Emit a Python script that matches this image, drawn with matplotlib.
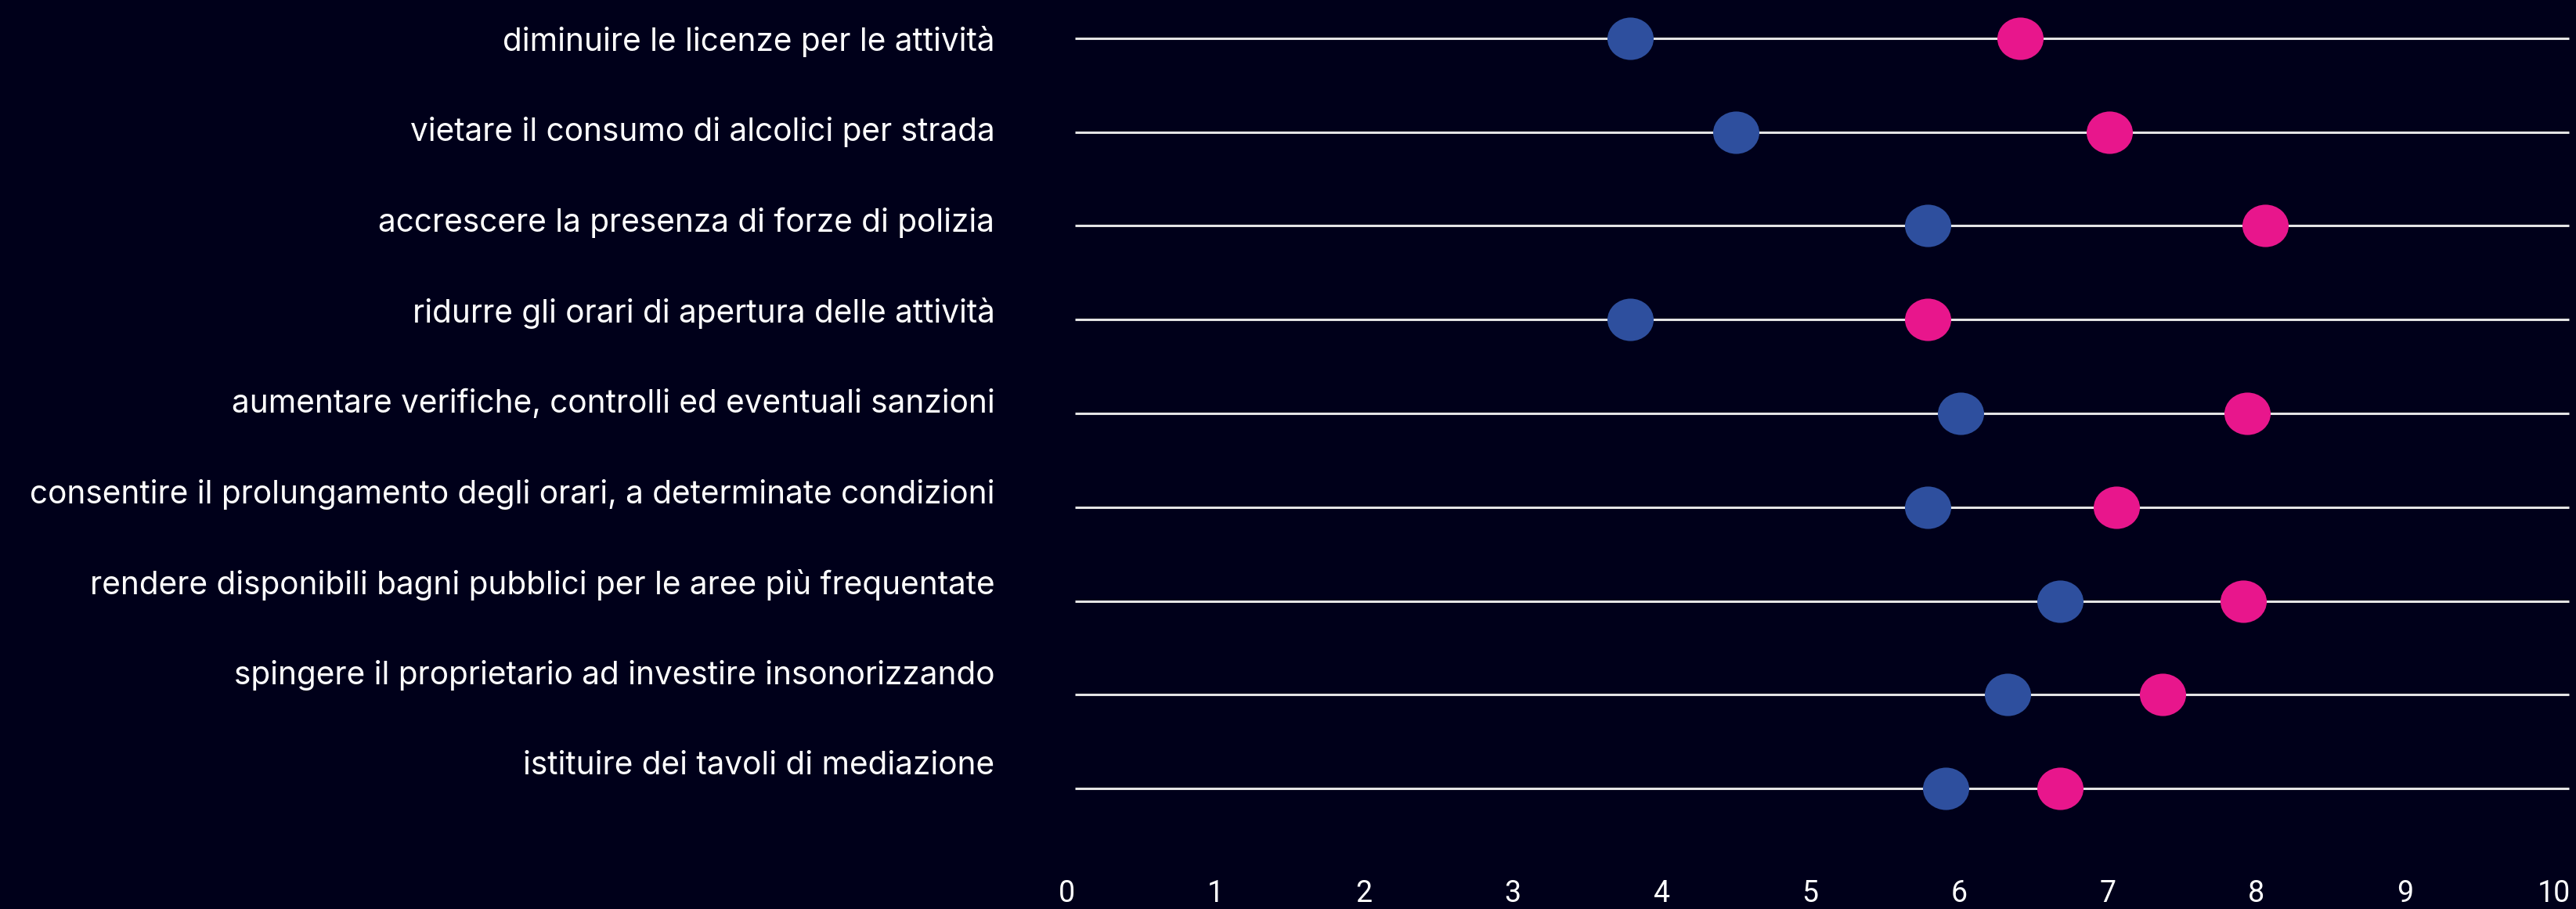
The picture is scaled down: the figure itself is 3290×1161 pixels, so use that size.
import matplotlib.pyplot as plt
from matplotlib.path import Path
from matplotlib.transforms import Affine2D

# categories, top to bottom
azioni = [
    "diminuire le licenze per le attività",
    "vietare il consumo di alcolici per strada",
    "accrescere la presenza di forze di polizia",
    "ridurre gli orari di apertura delle attività",
    "aumentare verifiche, controlli ed eventuali sanzioni",
    "consentire il prolungamento degli orari, a determinate condizioni",
    "rendere disponibili bagni pubblici per le aree più frequentate",
    "spingere il proprietario ad investire insonorizzando",
    "istituire dei tavoli di mediazione",
]
# two series
serie_blu = [3.79, 4.50, 5.79, 3.79, 6.01, 5.79, 6.68, 6.33, 5.91]
serie_rosa = [6.41, 7.01, 8.06, 5.79, 7.94, 7.06, 7.91, 7.37, 6.68]
x_ticks = [0, 1, 2, 3, 4, 5, 6, 7, 8, 9, 10]

BG = "#00001a"
BLU = "#2e4f9e"
ROSA = "#e8168c"
LINEA = "#e4e4e4"

fig = plt.figure(figsize=(32.9, 11.61), dpi=100, facecolor=BG)
ax = fig.add_axes([0.414, 0.0912, 0.586, 0.908])
ax.set_facecolor(BG)

righe = list(range(len(azioni)))

# horizontal guide per row
ax.hlines(righe, 0.06, 10.1, color=LINEA, lw=2.2, zorder=1)

# slightly wide ellipse marker
ellisse = Path.unit_circle().transformed(Affine2D().scale(1.09, 1.0))
ax.plot(serie_blu, righe, ls="none", marker=ellisse, ms=42.5,
        mfc=BLU, mec="none", zorder=3)
ax.plot(serie_rosa, righe, ls="none", marker=ellisse, ms=42.5,
        mfc=ROSA, mec="none", zorder=3)

ax.set_xlim(0, 10.15)
ax.set_ylim(8.4, -0.4)
ax.set_xticks(x_ticks)
ax.set_xticklabels([str(t) for t in x_ticks], family="Roboto", fontsize=27,
                   color="white")
ax.tick_params(axis="x", length=0, pad=49)
ax.set_yticks([])
for s in ax.spines.values():
    s.set_visible(False)

# labels sit on their own scale, a bit tighter than the lines
lab = ax.twinx()
lab.set_ylim(8.70, -0.419)
lab.yaxis.set_ticks_position("left")
lab.set_yticks(righe)
lab.set_yticklabels(azioni, family="Inter", fontsize=29.2, color="white")
lab.tick_params(axis="y", length=0, pad=66)
for s in lab.spines.values():
    s.set_visible(False)

fig.savefig("out.png", dpi=100, facecolor=BG)
